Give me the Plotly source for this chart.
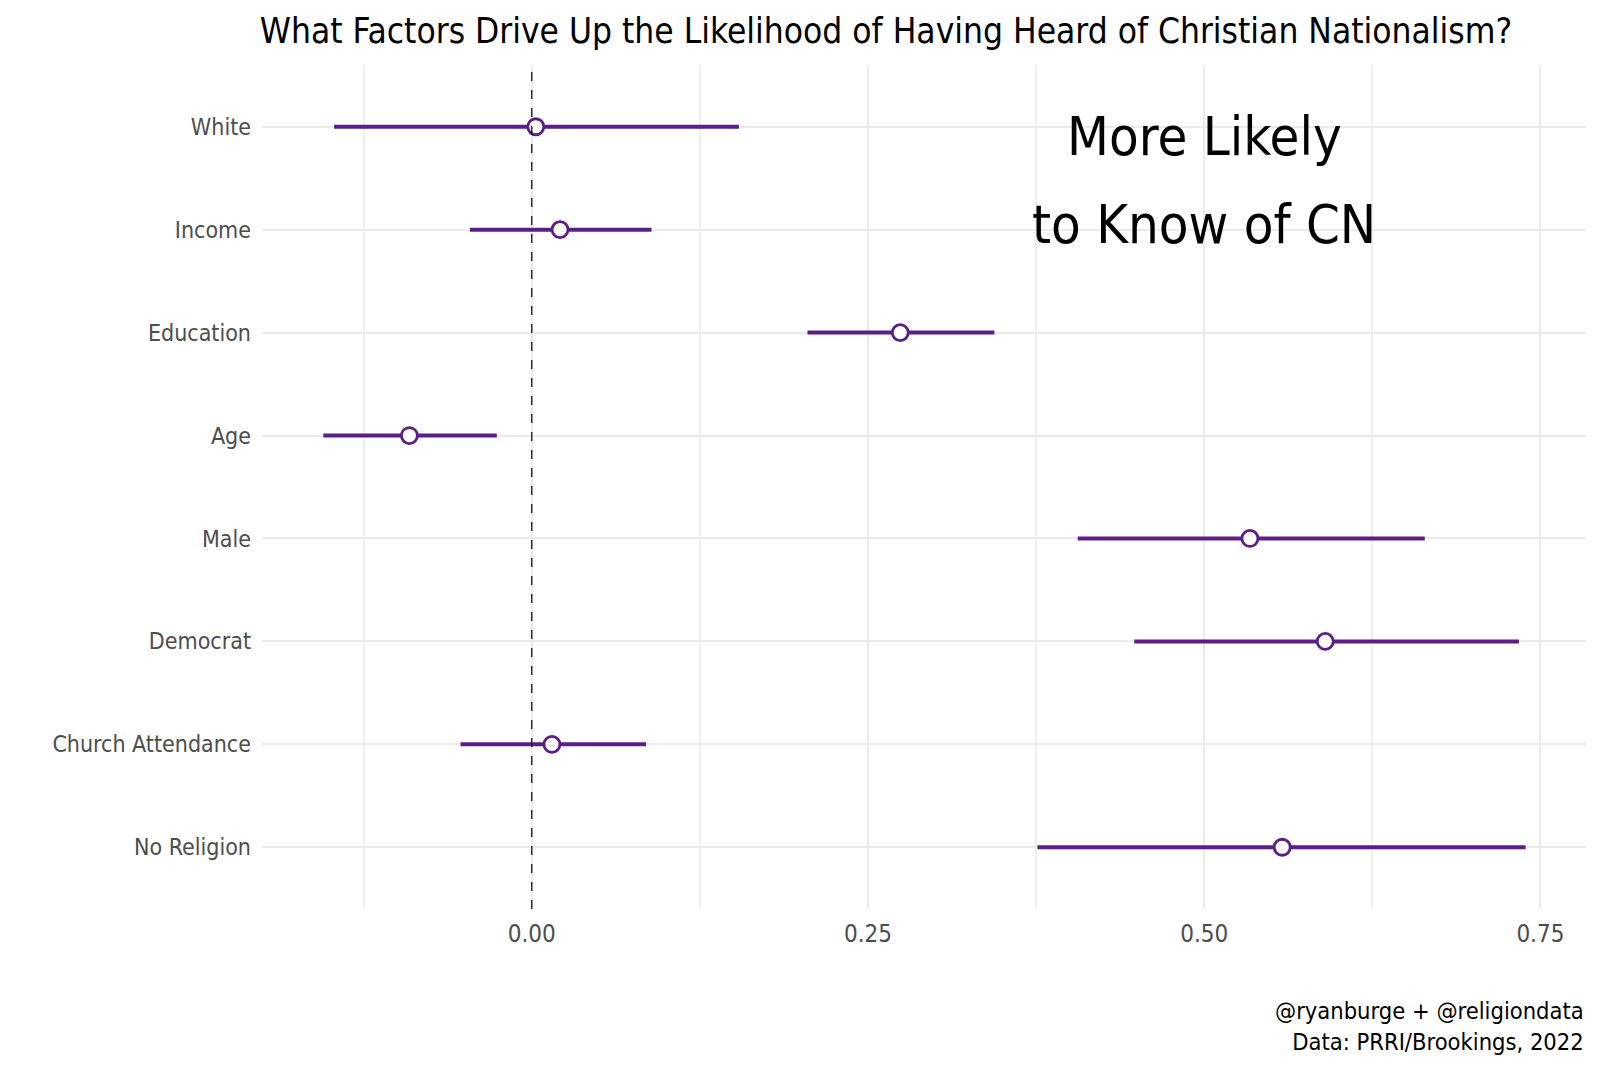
import plotly.graph_objects as go

categories = ["White", "Income", "Education", "Age", "Male", "Democrat",
              "Church Attendance", "No Religion"]
estimate = [0.003, 0.021, 0.274, -0.091, 0.534, 0.590, 0.015, 0.558]
ci_low = [-0.147, -0.046, 0.205, -0.155, 0.406, 0.448, -0.053, 0.376]
ci_high = [0.154, 0.089, 0.344, -0.026, 0.664, 0.734, 0.085, 0.739]
x_ticks = [0.0, 0.25, 0.5, 0.75]
x_tick_labels = ["0.00", "0.25", "0.50", "0.75"]

PURPLE = "#5B1E86"
FONT = "Liberation Sans Narrow, DejaVu Sans Condensed, Roboto, sans-serif"

fig = go.Figure()
fig.add_trace(go.Scatter(
    x=estimate, y=categories, mode="markers",
    marker=dict(size=16, color="white", line=dict(color=PURPLE, width=2.8)),
    error_x=dict(type="data", symmetric=False,
                 array=[h - e for h, e in zip(ci_high, estimate)],
                 arrayminus=[e - l for e, l in zip(estimate, ci_low)],
                 width=0, thickness=4, color=PURPLE),
    showlegend=False, hoverinfo="skip",
))

fig.add_vline(x=0, line=dict(color="black", width=1.2, dash="dash"))

fig.add_annotation(x=0.5, y=0.09, xref="x", yref="y", text="More Likely",
                   showarrow=False, font=dict(family=FONT, size=54, color="black"),
                   xanchor="center", yanchor="middle")
fig.add_annotation(x=0.5, y=0.95, xref="x", yref="y", text="to Know of CN",
                   showarrow=False, font=dict(family=FONT, size=54, color="black"),
                   xanchor="center", yanchor="middle")

fig.add_annotation(x=1, y=-0.102, xref="paper", yref="paper",
                   text="@ryanburge + @religiondata<br>Data: PRRI/Brookings, 2022",
                   showarrow=False, align="right", xanchor="right", yanchor="top",
                   font=dict(family=FONT, size=23.5, color="black"))

fig.update_layout(
    width=1600, height=1066,
    margin=dict(l=262, r=14, t=65, b=157),
    paper_bgcolor="white", plot_bgcolor="white",
    font=dict(family=FONT),
    title=dict(text="What Factors Drive Up the Likelihood of Having Heard of Christian Nationalism?",
               x=886 / 1600, xref="container", xanchor="center",
               y=1 - 31 / 1066, yref="container", yanchor="middle",
               font=dict(family=FONT, size=35, color="black")),
    xaxis=dict(range=[-0.2006, 0.7839], tickvals=x_ticks, ticktext=x_tick_labels,
               showgrid=True, gridcolor="#ebebeb", gridwidth=2, zeroline=False,
               showline=False, ticks="", ticklabelstandoff=8,
               tickfont=dict(family=FONT, size=24, color="#4d4d4d"),
               minor=dict(tick0=-0.125, dtick=0.25, showgrid=True,
                          gridcolor="#f0f0f0", gridwidth=1.5)),
    yaxis=dict(type="category", categoryorder="array", categoryarray=categories,
               range=[7.6, -0.6], showgrid=True, gridcolor="#ebebeb", gridwidth=2,
               zeroline=False, showline=False, ticks="", ticklabelstandoff=10,
               tickfont=dict(family=FONT, size=23, color="#4d4d4d")),
)

fig.write_html("out.html",
               config={"displayModeBar": False},
               post_script="document.body.style.margin='0';"
                           "document.body.style.overflow='hidden';")
